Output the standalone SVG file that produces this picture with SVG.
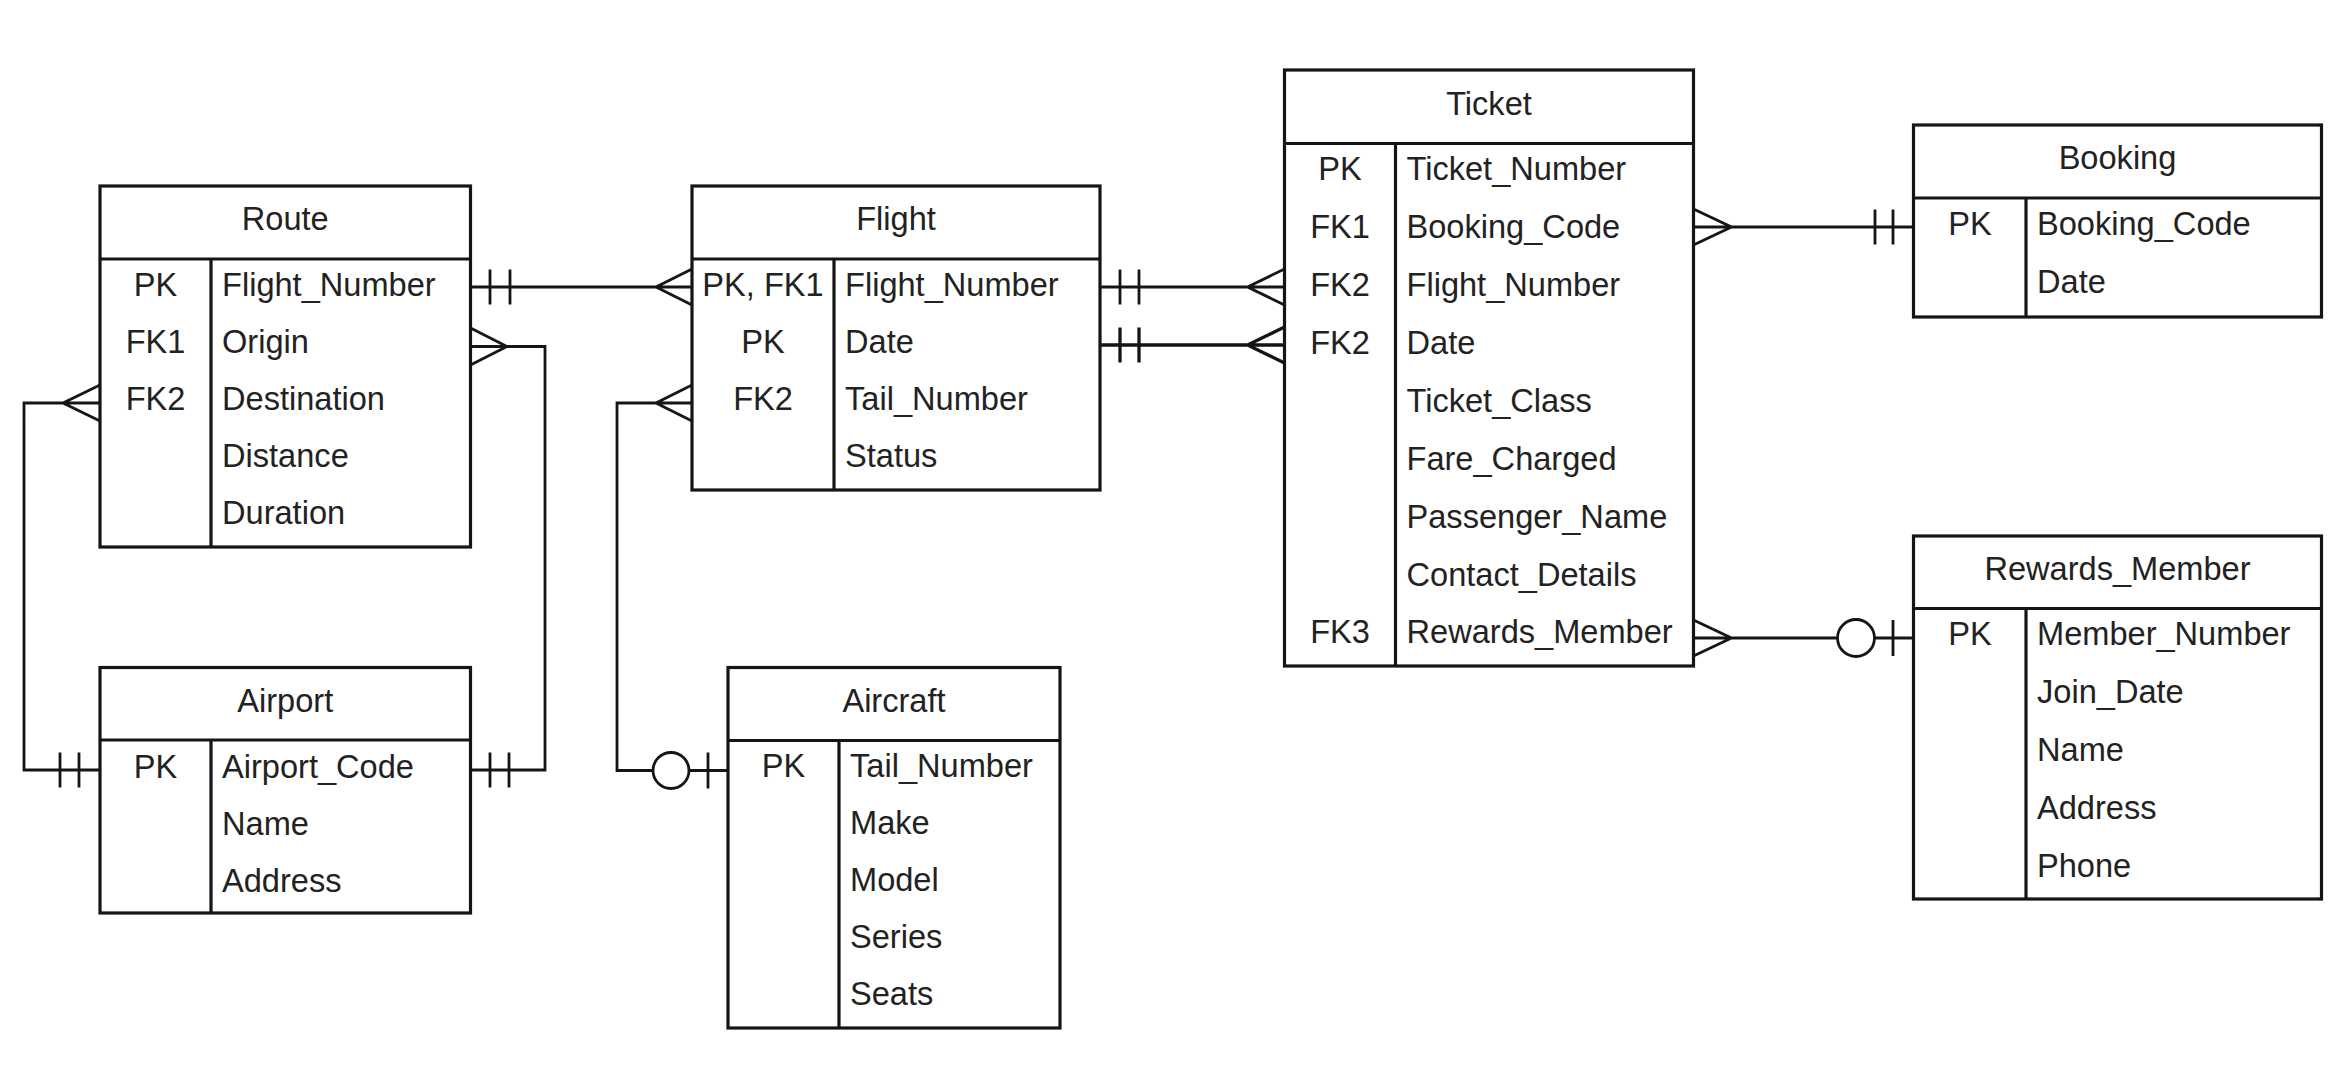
<svg xmlns="http://www.w3.org/2000/svg" width="2342" height="1080" viewBox="0 0 2342 1080">
<style>
.box{fill:#fff;stroke:#151515;stroke-width:3.2}
.ln{fill:none;stroke:#151515;stroke-width:3.2}
.cn{fill:none;stroke:#151515;stroke-width:2.8}
.o{fill:#fff;stroke:#151515;stroke-width:2.8}
text{font-family:"Liberation Sans",Arial,sans-serif;font-size:32.6px;fill:#222}
.c{text-anchor:middle}
</style>
<rect width="2342" height="1080" fill="#fff"/>
<g id="connectors">
  <path class="cn" d="M470.5 287H692M490 269.5V304.5M510 269.5V304.5M692 269L656 287L692 305"/>
  <path class="cn" d="M470.5 346.5H545V770H470.5M470.5 328L507 346.5L470.5 365M490 752.5V787.5M509 752.5V787.5"/>
  <path class="cn" d="M100 403H24V770H100M100 385L63 403L100 421M60 752.5V787.5M79 752.5V787.5"/>
  <path class="cn" d="M692 403H617V770.5H728M692 385L656 403L692 421M708 752.5V788.5"/>
  <circle class="o" cx="671" cy="770.5" r="18"/>
  <path class="cn" d="M1100 287H1284.5M1120 269.5V304.5M1139 269.5V304.5M1284.5 269L1247.5 287L1284.5 305"/>
  <path class="cn" d="M1100 345H1284.5M1120 327.5V362.5M1139 327.5V362.5M1284.5 327L1247.5 345L1284.5 363" style="stroke-width:3.3"/>
  <path class="cn" d="M1693.5 227H1913.5M1693.5 209L1731.5 227L1693.5 245M1875 209.5V244.5M1893 209.5V244.5"/>
  <path class="cn" d="M1693.5 638H1913.5M1693.5 620L1731.5 638L1693.5 656M1893 620V656"/>
  <circle class="o" cx="1856" cy="638" r="18.5"/>
</g>
<g id="route">
  <rect class="box" x="100" y="186" width="370.5" height="361"/>
  <path class="ln" d="M100 259H470.5M211 259V547"/>
  <text class="c" x="285.25" y="230">Route</text>
  <text class="c" x="155.5" y="296">PK</text>
  <text class="c" x="155.5" y="353">FK1</text>
  <text class="c" x="155.5" y="410">FK2</text>
  <text x="222" y="296">Flight_Number</text>
  <text x="222" y="353">Origin</text>
  <text x="222" y="410">Destination</text>
  <text x="222" y="467">Distance</text>
  <text x="222" y="524">Duration</text>
</g>
<g id="flight">
  <rect class="box" x="692" y="186" width="408" height="304"/>
  <path class="ln" d="M692 259H1100M834 259V490"/>
  <text class="c" x="896" y="230">Flight</text>
  <text class="c" x="763" y="296">PK, FK1</text>
  <text class="c" x="763" y="353">PK</text>
  <text class="c" x="763" y="410">FK2</text>
  <text x="845" y="296">Flight_Number</text>
  <text x="845" y="353">Date</text>
  <text x="845" y="410">Tail_Number</text>
  <text x="845" y="467">Status</text>
</g>
<g id="ticket">
  <rect class="box" x="1284.5" y="70" width="409" height="596"/>
  <path class="ln" d="M1284.5 143.5H1693.5M1395.5 143.5V666"/>
  <text class="c" x="1489" y="114.5">Ticket</text>
  <text class="c" x="1340" y="180">PK</text>
  <text class="c" x="1340" y="238">FK1</text>
  <text class="c" x="1340" y="296">FK2</text>
  <text class="c" x="1340" y="354">FK2</text>
  <text class="c" x="1340" y="643">FK3</text>
  <text x="1406.5" y="180">Ticket_Number</text>
  <text x="1406.5" y="238">Booking_Code</text>
  <text x="1406.5" y="296">Flight_Number</text>
  <text x="1406.5" y="354">Date</text>
  <text x="1406.5" y="411.5">Ticket_Class</text>
  <text x="1406.5" y="469.5">Fare_Charged</text>
  <text x="1406.5" y="527.5">Passenger_Name</text>
  <text x="1406.5" y="585.5">Contact_Details</text>
  <text x="1406.5" y="643">Rewards_Member</text>
</g>
<g id="booking">
  <rect class="box" x="1913.5" y="125" width="408" height="192"/>
  <path class="ln" d="M1913.5 198H2321.5M2026 198V317"/>
  <text class="c" x="2117.5" y="169">Booking</text>
  <text class="c" x="1970" y="235">PK</text>
  <text x="2037" y="235">Booking_Code</text>
  <text x="2037" y="293">Date</text>
</g>
<g id="rewards_member">
  <rect class="box" x="1913.5" y="536" width="408" height="363"/>
  <path class="ln" d="M1913.5 608.5H2321.5M2026 608.5V899"/>
  <text class="c" x="2117.5" y="580">Rewards_Member</text>
  <text class="c" x="1970" y="645">PK</text>
  <text x="2037" y="645">Member_Number</text>
  <text x="2037" y="703">Join_Date</text>
  <text x="2037" y="761">Name</text>
  <text x="2037" y="819">Address</text>
  <text x="2037" y="877">Phone</text>
</g>
<g id="airport">
  <rect class="box" x="100" y="667.5" width="370.5" height="245.5"/>
  <path class="ln" d="M100 740H470.5M211 740V913"/>
  <text class="c" x="285.25" y="711.5">Airport</text>
  <text class="c" x="155.5" y="777.5">PK</text>
  <text x="222" y="777.5">Airport_Code</text>
  <text x="222" y="834.5">Name</text>
  <text x="222" y="891.5">Address</text>
</g>
<g id="aircraft">
  <rect class="box" x="728" y="667.5" width="332" height="360.5"/>
  <path class="ln" d="M728 740.5H1060M839 740.5V1028"/>
  <text class="c" x="894" y="711.5">Aircraft</text>
  <text class="c" x="783.5" y="777">PK</text>
  <text x="850" y="777">Tail_Number</text>
  <text x="850" y="834">Make</text>
  <text x="850" y="891">Model</text>
  <text x="850" y="948">Series</text>
  <text x="850" y="1005">Seats</text>
</g>
</svg>
